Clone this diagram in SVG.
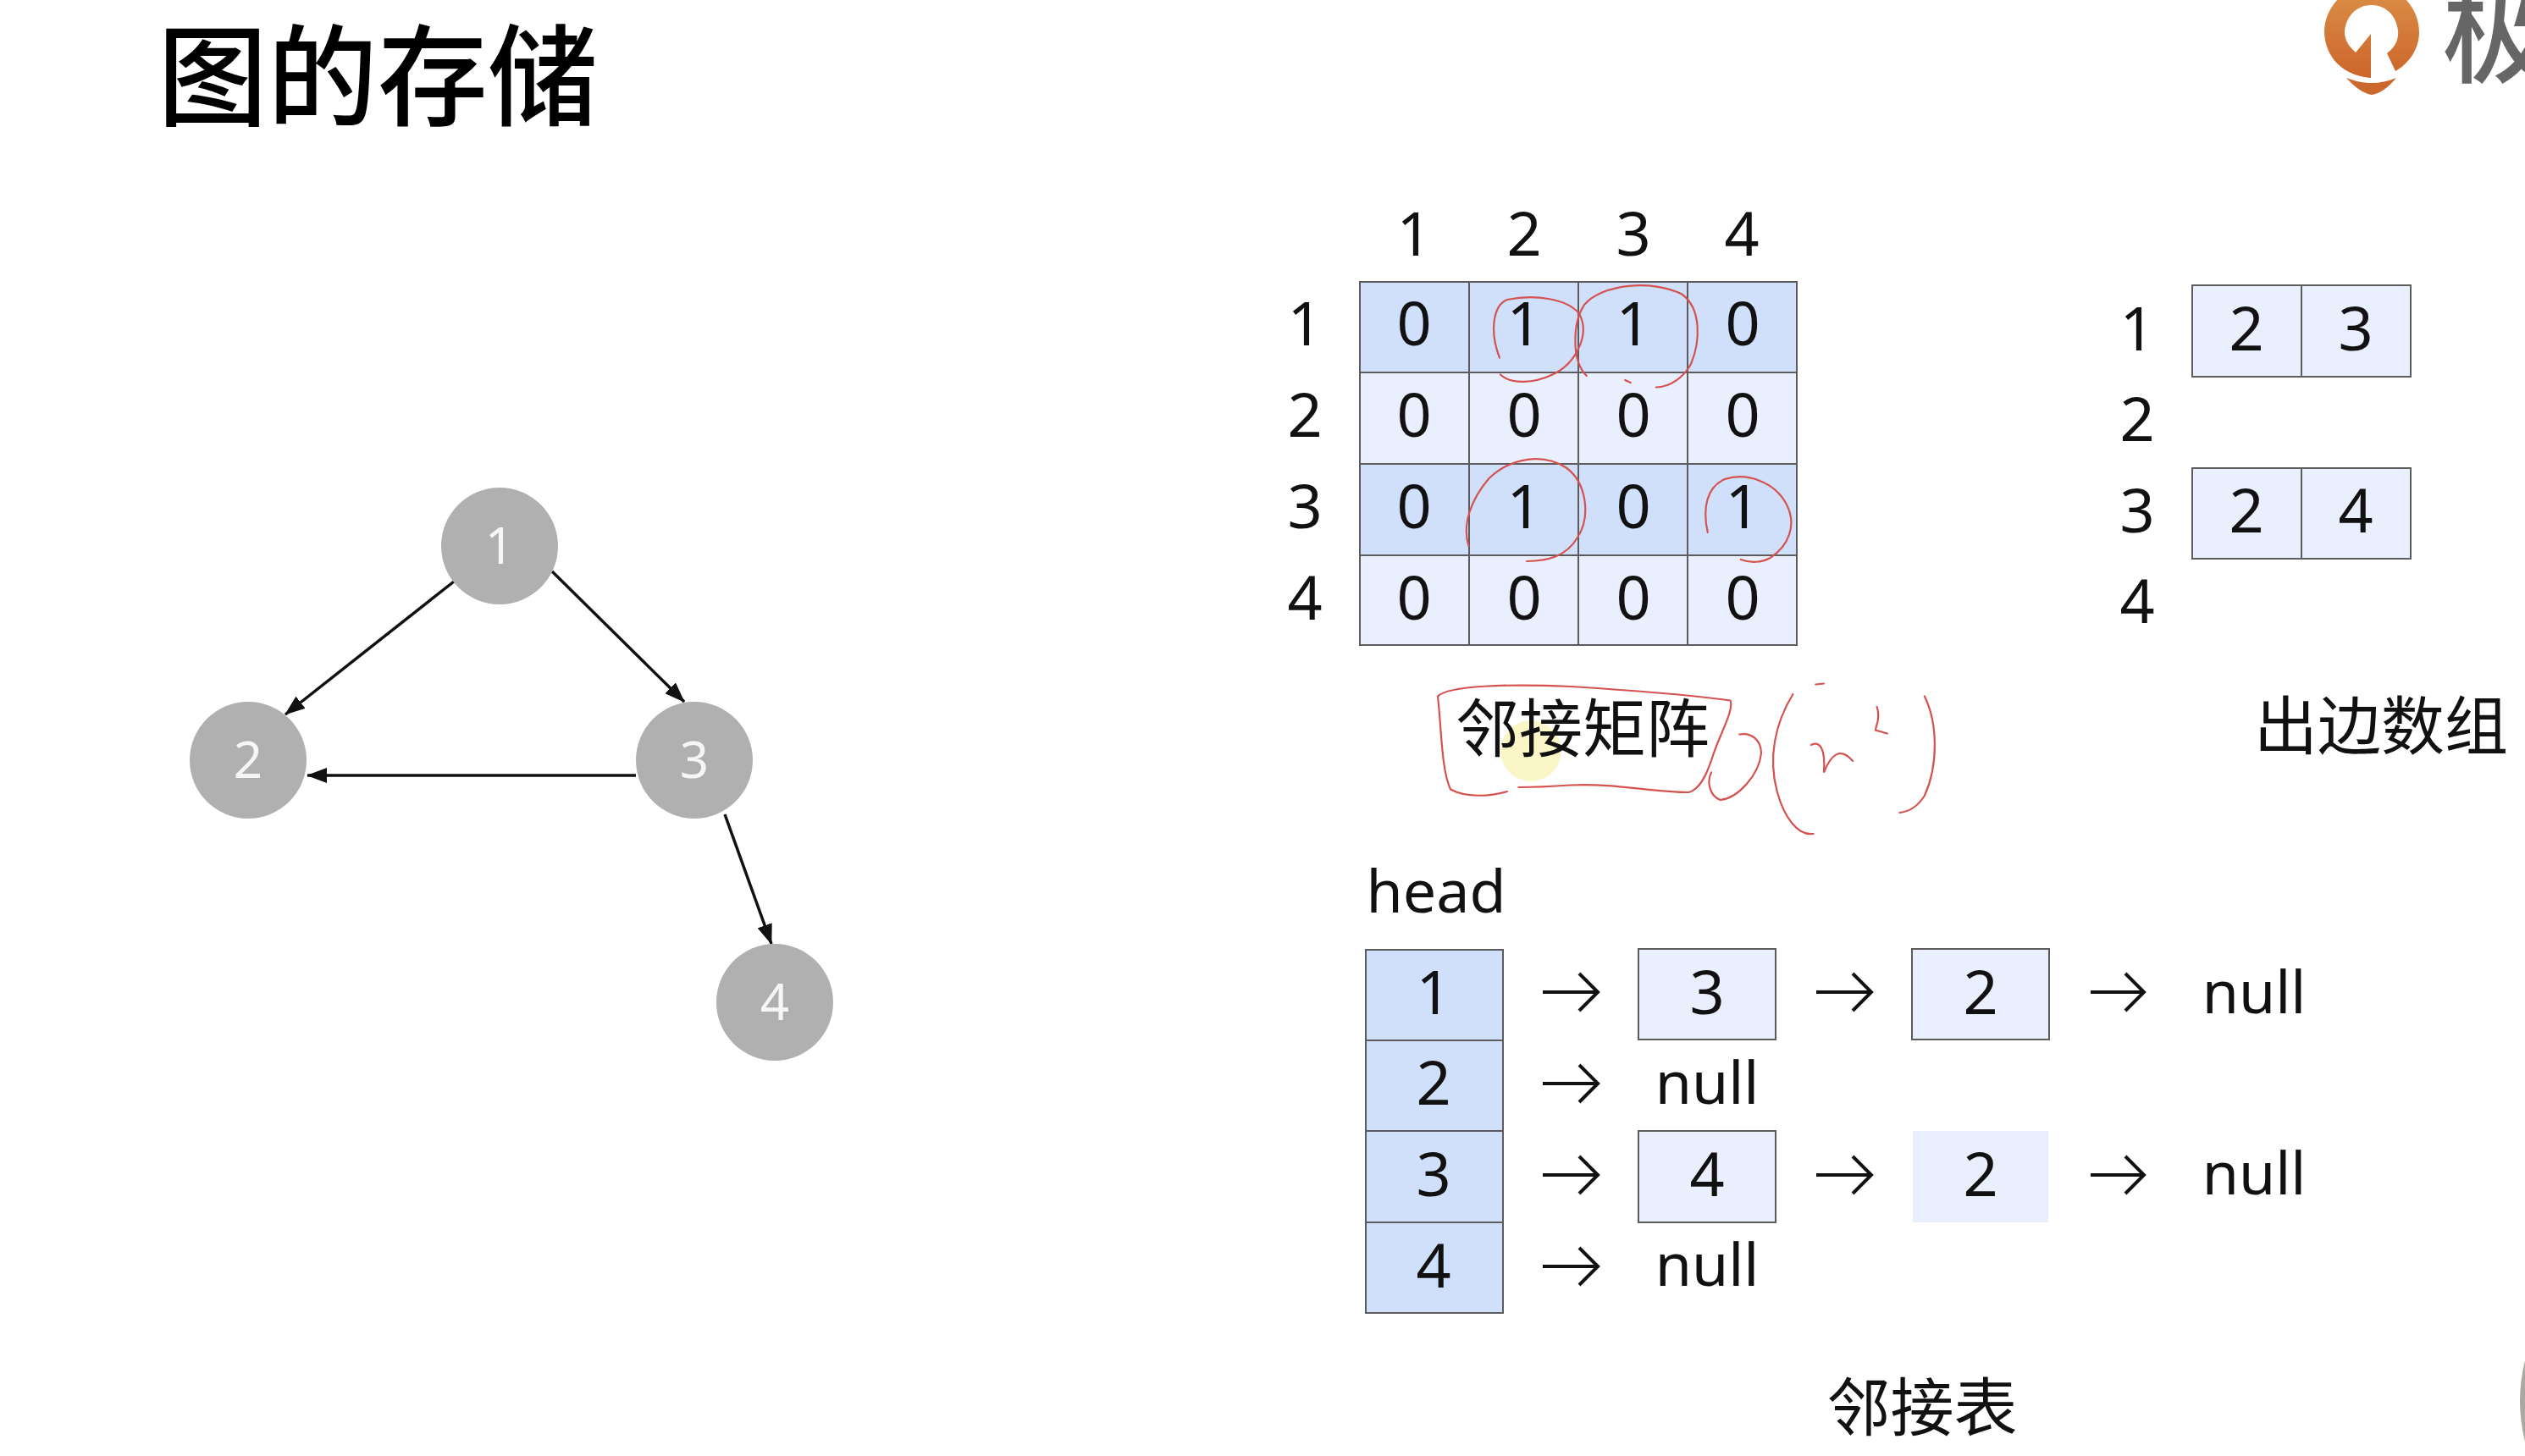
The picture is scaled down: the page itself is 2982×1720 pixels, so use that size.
<svg xmlns="http://www.w3.org/2000/svg" width="2982" height="1720" viewBox="0 0 2982 1720">
<style>
text{font-family:"Noto Sans","Noto Sans CJK SC",sans-serif;fill:#111;text-anchor:middle}
.t{font-size:72px}
.s{font-size:70px}
.c{font-family:"Noto Sans CJK SC","Noto Sans",sans-serif;font-size:75px}
.n{font-size:60px;fill:#f6f6f6}
.d{fill:#d0e0fb;stroke:#5c5c5c;stroke-width:2}
.l{fill:#e9effd;stroke:#5c5c5c;stroke-width:2}
.g{fill:#b0b0b0}
.e{fill:none;stroke:#111;stroke-width:3.5;marker-end:url(#ah)}
.a{fill:none;stroke:#111;stroke-width:4}
.r{fill:none;stroke:#d4524f;stroke-width:2.2;vector-effect:non-scaling-stroke;stroke-linecap:round}
</style>
<defs>
<marker id="ah" markerUnits="userSpaceOnUse" markerWidth="24" markerHeight="18" refX="23" refY="9" orient="auto"><path d="M0 0L24 9L0 18z" fill="#111"/></marker>
<linearGradient id="lg" x1="0" y1="0" x2="0" y2="1"><stop offset="0" stop-color="#dc9149"/><stop offset="1" stop-color="#cc652a"/></linearGradient>
</defs>
<rect width="2982" height="1720" fill="#fff"/>
<text id="title" x="446" y="138" style="font-family:'Noto Sans CJK SC',sans-serif;font-size:130px;font-weight:500;fill:#000">图的存储</text>
<g id="logo">
<path fill="url(#lg)" fill-rule="evenodd" d="M2801 -18C2832 -18 2857 8 2857 38C2857 58 2845 75 2829 84L2819 63C2828 56 2833 48 2832 36C2830 18 2817 6 2801 6C2783 6 2770 20 2769 38C2769 47 2774 55 2782 62L2800 40V92C2770 90 2746 70 2745 38C2745 8 2770 -18 2801 -18Z"/>
<path fill="#cd682c" d="M2771 92Q2801 104 2830 92Q2815 110 2801 112Q2787 110 2771 92Z"/>
<text x="2949" y="87" style="font-family:'Noto Sans CJK SC',sans-serif;font-size:130px;font-weight:500;fill:#666">极</text>
</g>
<g id="connectors">
<line class="e" x1="536" y1="687" x2="337" y2="844"/>
<line class="e" x1="652" y1="675" x2="808" y2="829"/>
<line class="e" x1="751" y1="916" x2="363" y2="916"/>
<line class="e" x1="856" y1="962" x2="911" y2="1115"/>
<path class="a" d="M1822 1172H1886M1865 1150L1887 1172L1865 1194M2145 1172H2209M2188 1150L2210 1172L2188 1194M2469 1172H2531M2510 1150L2532 1172L2510 1194M1822 1280H1886M1865 1258L1887 1280L1865 1302M1822 1388H1886M1865 1366L1887 1388L1865 1410M2145 1388H2209M2188 1366L2210 1388L2188 1410M2469 1388H2531M2510 1366L2532 1388L2510 1410M1822 1496H1886M1865 1474L1887 1496L1865 1518"/>
</g>
<g id="node-1"><circle class="g" cx="590" cy="645" r="69"/><text class="n" x="590" y="666">1</text></g>
<g id="node-2"><circle class="g" cx="293" cy="898" r="69"/><text class="n" x="293" y="919">2</text></g>
<g id="node-3"><circle class="g" cx="820" cy="898" r="69"/><text class="n" x="820" y="919">3</text></g>
<g id="node-4"><circle class="g" cx="915" cy="1184" r="69"/><text class="n" x="915" y="1205">4</text></g>
<g id="matrix">
<rect class="d" x="1606" y="333" width="129" height="107"/><rect class="d" x="1735" y="333" width="129" height="107"/><rect class="d" x="1864" y="333" width="129" height="107"/><rect class="d" x="1993" y="333" width="129" height="107"/>
<rect class="l" x="1606" y="440" width="129" height="108"/><rect class="l" x="1735" y="440" width="129" height="108"/><rect class="l" x="1864" y="440" width="129" height="108"/><rect class="l" x="1993" y="440" width="129" height="108"/>
<rect class="d" x="1606" y="548" width="129" height="108"/><rect class="d" x="1735" y="548" width="129" height="108"/><rect class="d" x="1864" y="548" width="129" height="108"/><rect class="d" x="1993" y="548" width="129" height="108"/>
<rect class="l" x="1606" y="656" width="129" height="106"/><rect class="l" x="1735" y="656" width="129" height="106"/><rect class="l" x="1864" y="656" width="129" height="106"/><rect class="l" x="1993" y="656" width="129" height="106"/>
<g class="t">
<text x="1670" y="302">1</text><text x="1800" y="302">2</text><text x="1929" y="302">3</text><text x="2057" y="302">4</text>
<text x="1541" y="408">1</text><text x="1541" y="516">2</text><text x="1541" y="624">3</text><text x="1541" y="732">4</text>
<text x="1670" y="408">0</text><text x="1800" y="408">1</text><text x="1929" y="408">1</text><text x="2058" y="408">0</text>
<text x="1670" y="516">0</text><text x="1800" y="516">0</text><text x="1929" y="516">0</text><text x="2058" y="516">0</text>
<text x="1670" y="624">0</text><text x="1800" y="624">1</text><text x="1929" y="624">0</text><text x="2058" y="624">1</text>
<text x="1670" y="732">0</text><text x="1800" y="732">0</text><text x="1929" y="732">0</text><text x="2058" y="732">0</text>
</g>
</g>
<ellipse id="cursor" cx="1808" cy="887" rx="36" ry="36" fill="#fbf6c8"/>
<text id="matrix-label" class="c" x="1869" y="888">邻接矩阵</text>
<g id="out-edges" class="t">
<rect class="l" x="2589" y="337" width="129" height="108"/><rect class="l" x="2718" y="337" width="129" height="108"/>
<rect class="l" x="2589" y="553" width="129" height="107"/><rect class="l" x="2718" y="553" width="129" height="107"/>
<text x="2524" y="414">1</text><text x="2524" y="521">2</text><text x="2524" y="629">3</text><text x="2524" y="736">4</text>
<text x="2653" y="414">2</text><text x="2782" y="414">3</text><text x="2653" y="629">2</text><text x="2782" y="629">4</text>
</g>
<text id="out-label" class="c" x="2812" y="885">出边数组</text>
<g id="adjacency-list" class="t">
<text class="s" x="1696" y="1078">head</text>
<rect class="d" x="1613" y="1122" width="162" height="107"/><rect class="d" x="1613" y="1229" width="162" height="107"/><rect class="d" x="1613" y="1336" width="162" height="108"/><rect class="d" x="1613" y="1444" width="162" height="107"/>
<text x="1693" y="1198">1</text><text x="1693" y="1305">2</text><text x="1693" y="1413">3</text><text x="1693" y="1521">4</text>
<rect class="l" x="1935" y="1121" width="162" height="107"/><rect class="l" x="2258" y="1121" width="162" height="107"/>
<rect class="l" x="1935" y="1336" width="162" height="108"/><rect x="2259" y="1336" width="160" height="108" fill="#e9effd"/>
<text x="2016" y="1198">3</text><text x="2339" y="1198">2</text><text x="2016" y="1413">4</text><text x="2339" y="1413">2</text>
<text class="s" x="2662" y="1197">null</text><text class="s" x="2016" y="1304">null</text><text class="s" x="2662" y="1411">null</text><text class="s" x="2016" y="1519">null</text>
</g>
<text id="list-label" class="c" x="2270" y="1690">邻接表</text>
<g id="ink" transform="translate(1480 220) scale(.5357 .5)">
<path class="r" d="M543 405C520 340 530 280 560 268C620 255 690 265 718 300C745 350 710 420 660 445C620 465 570 470 545 445"/>
<path class="r" d="M735 448C700 410 705 320 730 280C770 230 880 220 945 255C990 290 985 370 965 420C950 450 920 475 888 475M820 458L832 464"/>
<path class="r" d="M475 850C460 800 480 740 520 690C570 640 640 630 690 665C735 700 745 780 715 830C690 875 650 885 603 886"/>
<path class="r" d="M1002 818C990 760 1000 710 1040 692C1090 675 1150 700 1175 750C1200 800 1180 850 1140 878C1120 890 1095 890 1075 882"/>
<path class="r" d="M560 1430C520 1442 470 1445 435 1425C415 1380 415 1280 407 1205C430 1180 560 1175 700 1182C820 1190 950 1200 1052 1215C1060 1240 1030 1290 1012 1350C1000 1390 985 1425 960 1432C880 1432 800 1410 700 1415C660 1418 620 1420 585 1420"/>
<path class="r" d="M1072 1295C1100 1290 1120 1310 1120 1340C1115 1390 1070 1445 1030 1450C1005 1440 1000 1405 1010 1385"/>
<path class="r" d="M1240 1177L1258 1175M1190 1200C1150 1270 1135 1350 1155 1430C1170 1490 1200 1535 1235 1530"/>
<path class="r" d="M1230 1320C1250 1310 1262 1330 1258 1385C1275 1340 1295 1325 1322 1358M1375 1230C1385 1260 1370 1280 1372 1285L1398 1293"/>
<path class="r" d="M1480 1205C1510 1270 1510 1370 1480 1440C1465 1465 1445 1478 1425 1480"/>
</g>
<path id="corner" d="M2982 1607Q2970 1655 2982 1703Z" fill="#a9a9a2"/>
</svg>
